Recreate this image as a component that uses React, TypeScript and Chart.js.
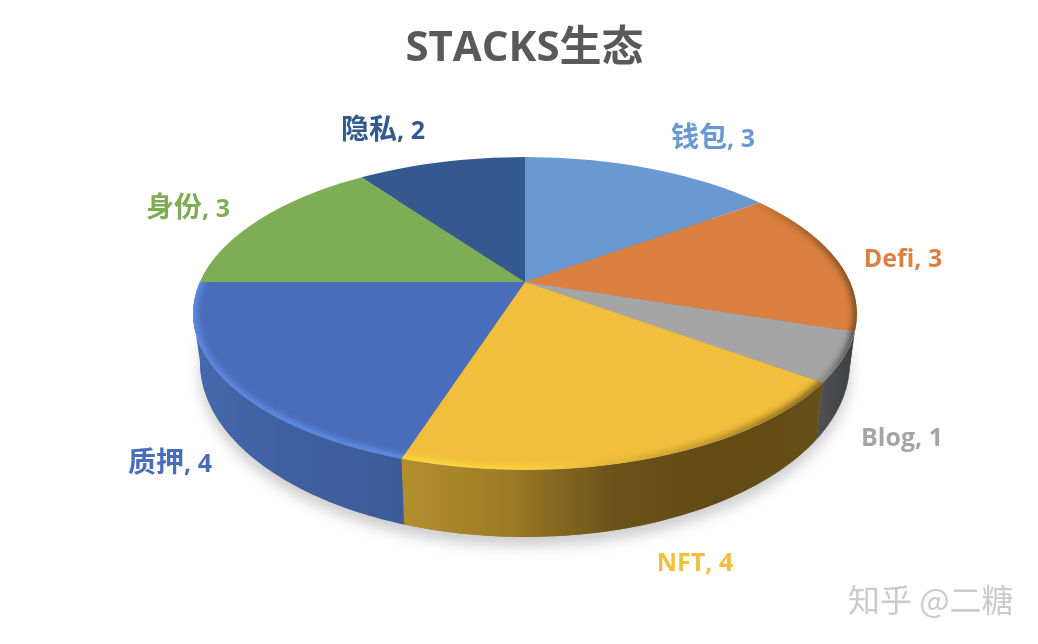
import React, { useEffect, useRef } from "react";
import { Chart, registerables } from "chart.js";

Chart.register(...registerables);

const categories = ["钱包", "Defi", "Blog", "NFT", "质押", "身份", "隐私"];
const values = [3, 3, 1, 4, 4, 3, 2];
const colors = ["#6a98d0", "#db8040", "#a5a5a5", "#f2bf3c", "#4a6dbb", "#7fad56", "#34598f"];
const labelColors = ["#6a98d0", "#db8040", "#a5a5a5", "#f2bf3c", "#4a6dbb", "#7fad56", "#34598f"];
const chartTitle = "STACKS生态";
const watermark = "知乎 @二糖";

// layout of the tilted disc
const PIE = { x: 525, y: 282, flatten: 0.465, reach: 520 };
const TOP = { x: 525, y: 313.5, rx: 332, ry: 156.5 };
const BOTTOM = { x: 525, y: 362, rx: 325, ry: 175 };
const LABEL_CENTERS = [
  [713, 138], [903, 258], [902, 437], [695, 562], [170, 463], [188, 208], [383, 130],
];
// gradients run from left to right on the canvas
const WALL_STOPS: (string[] | null)[] = [
  null,
  ["#8a5228", "#8a5228"],
  ["#4c4e52", "#3e3f42"],
  ["#b48e2e", "#9d7c26", "#6b5219", "#614a14", "#66501a"],
  ["#4568ae", "#3f609f", "#3b5a98"],
  null,
  null,
];
const BEVEL_STOPS: (string[] | null)[] = [
  null,
  ["#c97638", "#7a4a22"],
  ["#8a8a8a", "#4c4c4c"],
  ["#fbdc40", "#f8d23c", "#c89a2c", "#7a5f1a"],
  ["#5d8de6", "#5f90ea"],
  null,
  null,
];

const topPoint = (t: number, inset = 0) => [
  TOP.x + (TOP.rx - inset) * Math.sin(t),
  TOP.y - (TOP.ry - inset) * Math.cos(t),
];
const bottomPoint = (t: number) => [BOTTOM.x + BOTTOM.rx * Math.sin(t), BOTTOM.y - BOTTOM.ry * Math.cos(t)];

// where a slice's radial edge meets the rim of the top face
function rimParam(a: number) {
  const dx = Math.sin(a);
  const dy = -PIE.flatten * Math.cos(a);
  const off = PIE.y - TOP.y;
  const A = (dx * dx) / (TOP.rx * TOP.rx) + (dy * dy) / (TOP.ry * TOP.ry);
  const B = (2 * dy * off) / (TOP.ry * TOP.ry);
  const C = (off * off) / (TOP.ry * TOP.ry) - 1;
  const s = (-B + Math.sqrt(B * B - 4 * A * C)) / (2 * A);
  let t = Math.atan2((s * dx) / TOP.rx, -(s * dy + off) / TOP.ry);
  if (t < 0) t += Math.PI * 2;
  if (a > Math.PI * 1.9 && t < 1) t += Math.PI * 2;
  return t;
}

function hGradient(ctx: CanvasRenderingContext2D, a: number, b: number, stops: string[]) {
  const g = ctx.createLinearGradient(Math.min(a, b), 0, Math.max(a, b), 0);
  stops.forEach((c, i) => g.addColorStop(i / (stops.length - 1), c));
  return g;
}

function drawLabel(ctx: CanvasRenderingContext2D, text: string, cx: number, cy: number) {
  const runs = text.match(/[\u4e00-\u9fff]+|[^\u4e00-\u9fff]+/g) || [];
  const fontOf = (r: string) =>
    /[\u4e00-\u9fff]/.test(r)
      ? 'bold 28px "Noto Sans CJK SC", sans-serif'
      : 'bold 25px "Open Sans", sans-serif';
  let w = 0;
  runs.forEach((r) => {
    ctx.font = fontOf(r);
    w += ctx.measureText(r).width;
  });
  let x = cx - w / 2;
  runs.forEach((r) => {
    ctx.font = fontOf(r);
    ctx.fillText(r, x, cy + 9);
    x += ctx.measureText(r).width;
  });
}

const disc3d = {
  id: "disc3d",
  beforeDatasetsDraw(chart: any) {
    const ctx: CanvasRenderingContext2D = chart.ctx;
    const arcs = chart.getDatasetMeta(0).data;
    const ranges = arcs.map((arc: any) => {
      const p = arc.getProps(["startAngle", "endAngle"], true);
      return [rimParam(p.startAngle + Math.PI / 2), rimParam(p.endAngle + Math.PI / 2)];
    });

    // soft shadow under the disc
    ctx.save();
    ctx.shadowColor = "rgba(90,90,90,0.3)";
    ctx.shadowBlur = 14;
    ctx.shadowOffsetY = 9;
    ctx.fillStyle = "#888";
    ctx.beginPath();
    ctx.ellipse(BOTTOM.x, BOTTOM.y, BOTTOM.rx, BOTTOM.ry, 0, 0, Math.PI * 2);
    ctx.fill();
    ctx.restore();

    // outer wall
    arcs.forEach((_: any, i: number) => {
      const stops = WALL_STOPS[i];
      if (!stops) return;
      const t0 = Math.max(ranges[i][0], Math.PI / 2);
      const t1 = Math.min(ranges[i][1], (Math.PI * 3) / 2);
      if (t1 <= t0) return;
      const n = 80;
      ctx.beginPath();
      for (let k = 0; k <= n; k++) {
        const [x, y] = topPoint(t0 + ((t1 - t0) * k) / n);
        k ? ctx.lineTo(x, y) : ctx.moveTo(x, y);
      }
      for (let k = n; k >= 0; k--) {
        const [x, y] = bottomPoint(t0 + ((t1 - t0) * k) / n);
        ctx.lineTo(x, y);
      }
      ctx.closePath();
      ctx.fillStyle = hGradient(ctx, topPoint(t0)[0], topPoint(t1)[0], stops);
      ctx.fill();
    });

    // top face: the library's arcs, tilted and clipped to the rim
    ctx.save();
    ctx.beginPath();
    ctx.ellipse(TOP.x, TOP.y, TOP.rx, TOP.ry, 0, 0, Math.PI * 2);
    ctx.clip();
    const first = arcs[0].getProps(["x", "y", "outerRadius"], true);
    const scale = PIE.reach / first.outerRadius;
    ctx.save();
    ctx.translate(PIE.x, PIE.y);
    ctx.scale(scale, scale * PIE.flatten);
    ctx.translate(-first.x, -first.y);
    arcs.forEach((arc: any) => arc.draw(ctx));
    ctx.restore();

    // bevel along the front rim
    arcs.forEach((arc: any, i: number) => {
      const stops = BEVEL_STOPS[i];
      if (!stops) return;
      const [t0, t1] = ranges[i];
      ctx.save();
      ctx.beginPath();
      ctx.moveTo(PIE.x, PIE.y);
      for (let k = 0; k <= 60; k++) {
        const [x, y] = topPoint(t0 + ((t1 - t0) * k) / 60);
        ctx.lineTo(x, y);
      }
      ctx.closePath();
      ctx.clip();
      ctx.filter = "blur(3px)";
      ctx.lineWidth = 10;
      ctx.strokeStyle = hGradient(ctx, topPoint(t0)[0], topPoint(t1)[0], stops);
      ctx.beginPath();
      for (let k = 0; k <= 120; k++) {
        const [x, y] = topPoint(t0 - 0.1 + ((t1 - t0 + 0.2) * k) / 120, -1);
        k ? ctx.lineTo(x, y) : ctx.moveTo(x, y);
      }
      ctx.stroke();
      ctx.restore();
    });
    ctx.restore();

    return false;
  },
  afterDraw(chart: any) {
    const ctx: CanvasRenderingContext2D = chart.ctx;
    ctx.save();
    ctx.textAlign = "left";
    ctx.textBaseline = "alphabetic";
    categories.forEach((c, i) => {
      ctx.fillStyle = labelColors[i];
      drawLabel(ctx, `${c}, ${values[i]}`, LABEL_CENTERS[i][0], LABEL_CENTERS[i][1]);
    });
    ctx.textBaseline = "middle";
    ctx.font = '32px "Noto Sans CJK SC", sans-serif';
    ctx.fillStyle = "#cbcbcb";
    ctx.fillText(watermark, 848, 600);
    ctx.restore();
  },
};

export default function App() {
  const ref = useRef<HTMLCanvasElement>(null);
  useEffect(() => {
    const chart = new Chart(ref.current!, {
      type: "pie",
      data: {
        labels: categories,
        datasets: [{ data: values, backgroundColor: colors, borderWidth: 0 }],
      },
      options: {
        responsive: false,
        animation: false,
        devicePixelRatio: 1,
        layout: { padding: { left: 11 } },
        plugins: {
          legend: { display: false },
          tooltip: { enabled: false },
          title: {
            display: true,
            text: chartTitle,
            color: "#595959",
            font: { size: 42, weight: "bold", family: '"Open Sans", "Noto Sans CJK SC", sans-serif' },
            padding: { top: 24, bottom: 10 },
          },
        },
      },
      plugins: [disc3d],
    } as any);
    return () => chart.destroy();
  }, []);
  return (
    <div style={{ position: "fixed", left: 0, top: 0, width: 1038, height: 644, background: "#fff" }}>
      <canvas ref={ref} width={1038} height={644} style={{ display: "block" }} />
    </div>
  );
}
